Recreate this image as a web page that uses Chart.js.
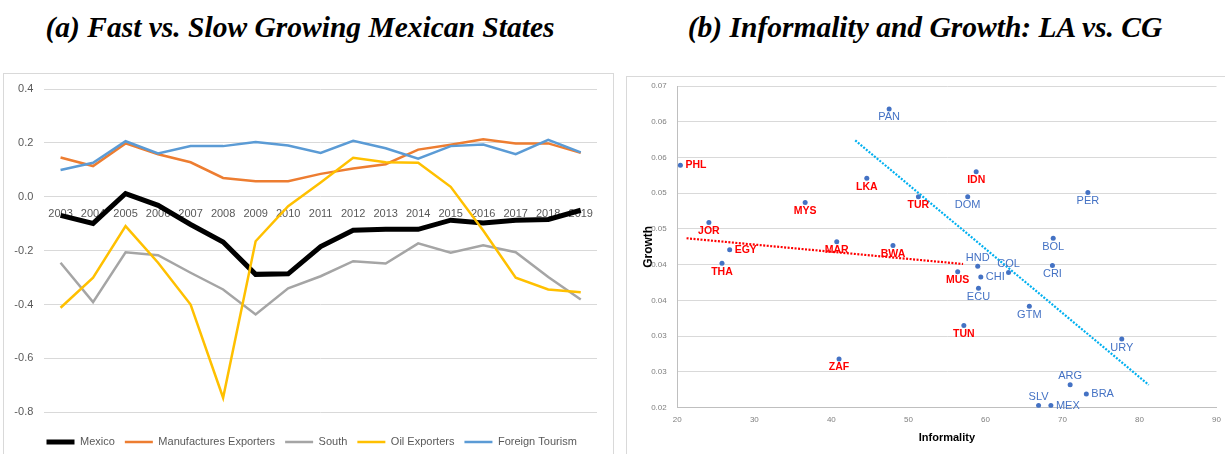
<!DOCTYPE html>
<html>
<head>
<meta charset="utf-8">
<script src="https://cdn.jsdelivr.net/npm/chart.js@4.4.1/dist/chart.umd.min.js"></script>
<style>
  html, body { margin: 0; padding: 0; background: #fff; overflow: hidden; width: 1225px; height: 454px; }
  .title { position: absolute; font-family: "Liberation Serif", "Times New Roman", serif; font-weight: bold; font-style: italic;
           font-size: 29.5px; line-height: 29.5px; text-align: center; color: #000; white-space: nowrap; }
  .frame { position: absolute; border: 1px solid #d9d9d9; box-sizing: border-box; }
  .holder { position: absolute; }
</style>
</head>
<body>
<div class="title" style="left:0px; top:12.8px; width:600px;">(a) Fast vs. Slow Growing Mexican States</div>
<div class="title" style="left:625px; top:12.8px; width:600px;">(b) Informality and Growth: LA vs. CG</div>
<div class="frame" style="left:3px; top:73px; width:611px; height:400px;"></div>
<div class="frame" style="left:626px; top:76px; width:620px; height:400px;"></div>
<div class="holder" style="left:4px; top:74px; width:608px; height:390px;"><canvas id="statesChart"></canvas></div>
<div class="holder" style="left:627px; top:77px; width:598px; height:377px;"><canvas id="informalityChart"></canvas></div>
<script>
// ---- Panel (a): growth differentials by group of Mexican states ----
const years = ['2003','2004','2005','2006','2007','2008','2009','2010','2011','2012','2013','2014','2015','2016','2017','2018','2019'];
const mexico       = [-0.069, -0.099, 0.012, -0.032, -0.103, -0.168, -0.288, -0.286, -0.185, -0.124, -0.121, -0.121, -0.087, -0.097, -0.087, -0.084, -0.050];
const manufactures = [0.146, 0.114, 0.198, 0.158, 0.128, 0.070, 0.058, 0.058, 0.085, 0.105, 0.121, 0.175, 0.193, 0.213, 0.198, 0.198, 0.163];
const south        = [-0.245, -0.391, -0.206, -0.217, -0.282, -0.344, -0.437, -0.340, -0.295, -0.239, -0.248, -0.173, -0.208, -0.180, -0.206, -0.298, -0.381];
const oilExporters = [-0.412, -0.300, -0.109, -0.245, -0.400, -0.746, -0.165, -0.035, 0.053, 0.145, 0.128, 0.126, 0.037, -0.125, -0.300, -0.344, -0.354];
const tourism      = [0.099, 0.126, 0.206, 0.161, 0.188, 0.188, 0.203, 0.190, 0.163, 0.208, 0.180, 0.141, 0.188, 0.194, 0.158, 0.211, 0.165];
const leftTicks = { min: -0.8, max: 0.4, step: 0.2 };

// ---- Panel (b): informality vs growth, Latin America (LA) and comparison group (CG) ----
const cgCodes       = ['PHL','JOR','EGY','THA','MYS','MAR','LKA','BWA','TUR','IDN','MUS','TUN','ZAF'];
const cgInformality = [20.4, 24.1, 26.8, 25.8, 36.6, 40.7, 44.6, 48.0, 51.3, 58.8, 56.4, 57.2, 41.0];
const cgGrowth      = [0.0539, 0.0459, 0.0421, 0.0402, 0.0487, 0.0432, 0.0521, 0.0427, 0.0495, 0.0530, 0.0390, 0.0315, 0.0268];
const laCodes       = ['PAN','DOM','PER','BOL','HND','CRI','COL','CHI','ECU','GTM','URY','ARG','BRA','SLV','MEX'];
const laInformality = [47.5, 57.7, 73.3, 68.8, 59.0, 68.7, 63.0, 59.4, 59.1, 65.7, 77.7, 71.0, 73.1, 66.9, 68.5];
const laGrowth      = [0.0618, 0.0495, 0.0501, 0.0437, 0.0398, 0.0399, 0.0389, 0.0383, 0.0367, 0.0342, 0.0296, 0.0232, 0.0219, 0.0203, 0.0203];
// linear trend lines (start / end)
const cgTrendX = [21.2, 57.1];
const cgTrendY = [0.0437, 0.0401];
const laTrendX = [43.1, 81.2];
const laTrendY = [0.0574, 0.0232];
const rightXTicks = { min: 20, max: 90, step: 10 };
const rightYTicks = { min: 0.02, max: 0.065, step: 0.005 };

const SANS = '"Liberation Sans", Arial, sans-serif';
const toPoints = (xs, ys) => xs.map((x, i) => ({ x: x, y: ys[i] }));

// ---------- chart (a) ----------
const lineSeries = [
  { label: 'Mexico', data: mexico, color: '#000000', width: 5 },
  { label: 'Manufactures Exporters', data: manufactures, color: '#ED7D31', width: 2.5 },
  { label: 'South', data: south, color: '#A5A5A5', width: 2.5 },
  { label: 'Oil Exporters', data: oilExporters, color: '#FFC000', width: 2.5 },
  { label: 'Foreign Tourism', data: tourism, color: '#5B9BD5', width: 2.5 }
];

// nudges the centred legend row sideways
const legendShift = {
  id: 'legendShift',
  afterLayout(chart, args, opts) {
    const lg = chart.legend;
    if (!lg) return;
    lg.left += opts.dx;
    lg.right += opts.dx;
  }
};

new Chart(document.getElementById('statesChart'), {
  type: 'line',
  data: {
    labels: years,
    datasets: lineSeries.map((s, i) => ({
      label: s.label, data: s.data, borderColor: s.color, backgroundColor: s.color,
      borderWidth: s.width, order: lineSeries.length - i, pointRadius: 0, tension: 0, fill: false
    }))
  },
  options: {
    responsive: true, maintainAspectRatio: false, animation: false,
    layout: { padding: { top: 15, right: 15, left: 0, bottom: 6.5 } },
    scales: {
      x: {
        position: { y: 0 }, offset: true,
        grid: { display: false, drawTicks: false }, border: { display: false },
        ticks: { color: '#595959', font: { size: 11, family: SANS }, padding: 11, autoSkip: false, maxRotation: 0 }
      },
      y: {
        min: leftTicks.min, max: leftTicks.max,
        grid: { color: '#d9d9d9', lineWidth: 1, drawTicks: true, tickLength: 11, tickColor: 'rgba(0,0,0,0)' },
        border: { display: false },
        ticks: { stepSize: leftTicks.step, color: '#595959', font: { size: 11, family: SANS }, padding: 0 },
        afterFit: (scale) => { scale.width = 40.3; }
      }
    },
    plugins: {
      tooltip: { enabled: false },
      legendShift: { dx: -9 },
      legend: {
        position: 'bottom', fullSize: false,
        title: { display: true, text: ' ', padding: { top: 13, bottom: 0 }, font: { size: 1 } },
        labels: {
          usePointStyle: true, pointStyleWidth: 28, padding: 10, color: '#595959',
          font: { size: 11, family: SANS },
          generateLabels: (chart) => chart.data.datasets.map((ds, i) => ({
            text: ds.label, strokeStyle: ds.borderColor, fillStyle: ds.borderColor,
            lineWidth: ds.borderWidth, pointStyle: 'line', lineCap: 'butt', hidden: false,
            datasetIndex: i, fontColor: '#595959'
          }))
        }
      }
    }
  },
  plugins: [legendShift]
});

// ---------- chart (b) ----------
const labelPlacement = { PHL: 'right', EGY: 'right', CHI: 'right', BRA: 'right', MEX: 'right',
                         HND: 'above', COL: 'above', ARG: 'above', SLV: 'above' };

const countryLabels = {
  id: 'countryLabels',
  afterDatasetsDraw(chart) {
    const ctx = chart.ctx;
    chart.data.datasets.forEach((ds, di) => {
      if (!ds.codes) return;
      const meta = chart.getDatasetMeta(di);
      meta.data.forEach((pt, i) => {
        const code = ds.codes[i];
        const place = labelPlacement[code] || 'below';
        ctx.save();
        ctx.font = ds.labelFont;
        ctx.fillStyle = ds.labelColor;
        ctx.textBaseline = 'middle';
        if (place === 'right') {
          ctx.textAlign = 'left';
          ctx.fillText(code, pt.x + 5, pt.y);
        } else {
          ctx.textAlign = 'center';
          ctx.fillText(code, pt.x, place === 'above' ? pt.y - 8.5 : pt.y + 8.5);
        }
        ctx.restore();
      });
    });
  }
};

new Chart(document.getElementById('informalityChart'), {
  type: 'scatter',
  data: {
    datasets: [
      { label: 'CG', data: toPoints(cgInformality, cgGrowth), codes: cgCodes,
        labelColor: '#FF0000', labelFont: 'bold 10.5px ' + SANS,
        pointRadius: 2.5, pointBackgroundColor: '#4472C4', pointBorderWidth: 0, order: 3 },
      { label: 'LA', data: toPoints(laInformality, laGrowth), codes: laCodes,
        labelColor: '#4472C4', labelFont: '11px ' + SANS,
        pointRadius: 2.5, pointBackgroundColor: '#4472C4', pointBorderWidth: 0, order: 4 },
      { label: 'CG trend', data: toPoints(cgTrendX, cgTrendY), showLine: true, pointRadius: 0,
        borderColor: '#FF0000', borderWidth: 2.2, borderDash: [2, 1.5], order: 1 },
      { label: 'LA trend', data: toPoints(laTrendX, laTrendY), showLine: true, pointRadius: 0,
        borderColor: '#00B0F0', borderWidth: 2.2, borderDash: [2, 1.5], order: 2 }
    ]
  },
  options: {
    responsive: true, maintainAspectRatio: false, animation: false,
    layout: { padding: { top: 9, right: 8.5, left: 0, bottom: 0 } },
    scales: {
      x: {
        type: 'linear', min: rightXTicks.min, max: rightXTicks.max,
        grid: { display: true, drawOnChartArea: false, drawTicks: true, tickLength: 7.5, tickColor: 'rgba(0,0,0,0)' },
        border: { display: true, color: '#bfbfbf' },
        ticks: { stepSize: rightXTicks.step, color: '#808080', font: { size: 8, family: SANS }, padding: 0 },
        title: { display: true, text: 'Informality', color: '#000', font: { size: 11, weight: 'bold', family: SANS },
                 padding: { top: 0, bottom: 9.4 } },
        afterFit: (scale) => { scale.height = 46.3; }
      },
      y: {
        min: rightYTicks.min, max: rightYTicks.max,
        grid: { color: '#d9d9d9', lineWidth: 1, drawTicks: true, tickLength: 10.6, tickColor: 'rgba(0,0,0,0)' },
        border: { display: true, color: '#bfbfbf' },
        ticks: {
          stepSize: rightYTicks.step, color: '#808080', font: { size: 8, family: SANS }, padding: 0,
          callback: (v) => (Math.round(v * 100 + 1e-6) / 100).toFixed(2)
        },
        title: { display: true, text: 'Growth', color: '#000', font: { size: 12, weight: 'bold', family: SANS },
                 padding: { top: 14.4, bottom: 0 } },
        afterFit: (scale) => { scale.width = 50.3; }
      }
    },
    plugins: { legend: { display: false }, tooltip: { enabled: false } }
  },
  plugins: [countryLabels]
});
</script>
</body>
</html>
